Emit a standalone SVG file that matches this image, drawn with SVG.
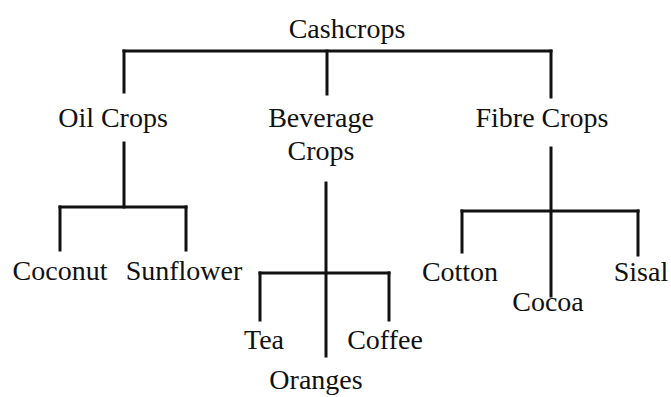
<svg xmlns="http://www.w3.org/2000/svg" width="671" height="397" viewBox="0 0 671 397">
<style>
text{font-family:"Liberation Serif","Times New Roman",serif;font-size:28px;fill:#111;text-anchor:middle}
.c line{stroke:#111;stroke-width:3;stroke-linecap:square}
</style>
<rect width="671" height="397" fill="#fff"/>
<g class="c" id="connectors">
<line x1="124" y1="51" x2="551" y2="51"/>
<line x1="124" y1="51" x2="124" y2="92"/>
<line x1="327" y1="51" x2="327" y2="94"/>
<line x1="551" y1="51" x2="551" y2="97"/>
<line x1="124" y1="143" x2="124" y2="207"/>
<line x1="60" y1="207" x2="186" y2="207"/>
<line x1="60" y1="207" x2="60" y2="250"/>
<line x1="186" y1="207" x2="186" y2="250"/>
<line x1="326" y1="183" x2="326" y2="356"/>
<line x1="260" y1="273" x2="389" y2="273"/>
<line x1="260" y1="273" x2="260" y2="320"/>
<line x1="389" y1="273" x2="389" y2="320"/>
<line x1="551" y1="148" x2="551" y2="296"/>
<line x1="462" y1="211" x2="638" y2="211"/>
<line x1="462" y1="211" x2="462" y2="252"/>
<line x1="638" y1="211" x2="638" y2="255"/>
</g>
<g id="cashcrops"><text x="347" y="38">Cashcrops</text></g>
<g id="oil"><text x="113" y="127">Oil Crops</text></g>
<g id="beverage"><text x="321" y="127">Beverage</text><text x="321" y="160">Crops</text></g>
<g id="fibre"><text x="542" y="127">Fibre Crops</text></g>
<g id="coconut"><text x="60" y="280">Coconut</text></g>
<g id="sunflower"><text x="184" y="280">Sunflower</text></g>
<g id="tea"><text x="264" y="349">Tea</text></g>
<g id="coffee"><text x="385" y="349">Coffee</text></g>
<g id="oranges"><text x="316" y="389">Oranges</text></g>
<g id="cotton"><text x="460" y="281">Cotton</text></g>
<g id="cocoa"><text x="548" y="311">Cocoa</text></g>
<g id="sisal"><text x="641" y="281">Sisal</text></g>
</svg>
